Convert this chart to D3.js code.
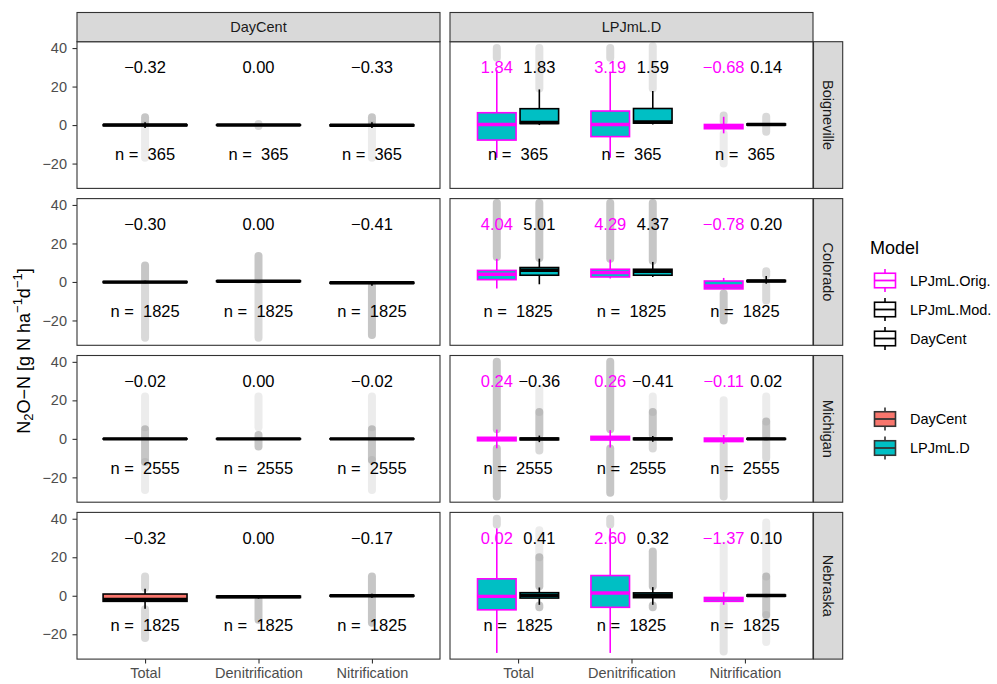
<!DOCTYPE html>
<html><head><meta charset="utf-8">
<script src="https://cdn.jsdelivr.net/npm/d3@7"></script>
<style>
body{margin:0;background:#fff}
text{font-family:"Liberation Sans",Arial,Helvetica,sans-serif}
</style>
</head><body>
<svg id="c" width="997" height="684"></svg>
<script>
// ---------- data ----------
const sites = ["Boigneville", "Colorado", "Michigan", "Nebraska"];
const components = ["Total", "Denitrification", "Nitrification"];
const panels = ["DayCent", "LPJmL.D"];
const nObs = [365, 1825, 2555, 1825];
const yTicks = [-20, 0, 20, 40];
const colourLegend = ["LPJmL.Orig.", "LPJmL.Mod.", "DayCent"];
const fillLegend = ["DayCent", "LPJmL.D"];

// mean-difference labels [site][component]
const meanDayCent = [[-0.32, 0.00, -0.33], [-0.30, 0.00, -0.41], [-0.02, 0.00, -0.02], [-0.32, 0.00, -0.17]];
const meanOrig = [[1.84, 3.19, -0.68], [4.04, 4.29, -0.78], [0.24, 0.26, -0.11], [0.02, 2.60, -1.37]];
const meanMod = [[1.83, 1.59, 0.14], [5.01, 4.37, 0.20], [-0.36, -0.41, 0.02], [0.41, 0.32, 0.10]];

// box stats [lower whisker, q1, median, q3, upper whisker]
const boxDayCent = [
  [[-1.5, -0.3, 0, 0.2, 1.5], [-0.1, -0.1, 0, 0.1, 0.1], [-1.5, -0.4, -0.1, 0.1, 1.5]],
  [[-0.6, -0.3, -0.1, 0.2, 0.6], [0, 0.2, 0.4, 0.6, 0.8], [-2, -0.7, -0.4, -0.2, 0]],
  [[-0.3, -0.1, 0, 0.1, 0.3], [-0.3, -0.1, 0, 0.1, 0.3], [-0.3, -0.1, 0, 0.1, 0.3]],
  [[-6.8, -2.9, -1.9, 0.9, 3.6], [-1.5, -0.9, -0.5, -0.2, 0.3], [-1, -0.2, 0, 0.2, 1]]
];
const boxOrig = [
  [[-17, -7.8, 0.3, 6.4, 28.5], [-17, -6, 0.3, 7.3, 27.7], [-4.3, -1.9, -0.8, 0.3, 4.3]],
  [[-3.4, 1.2, 4.0, 6.0, 12], [1.8, 2.6, 4.9, 6.6, 11.6], [-3.8, -3.6, -2.1, 0.5, 2.1]],
  [[-4.9, -1, 0, 0.8, 4.8], [-4.5, -0.6, 0.5, 1.3, 4.5], [-2.6, -1.4, -0.5, 0.4, 2]],
  [[-29.7, -7.3, -0.3, 8.8, 35], [-29.7, -6, 1.4, 10.5, 35], [-4.7, -2.9, -1.6, -0.9, 1.9]]
];
const boxMod = [
  [[0, 0.8, 1.3, 8.5, 18.5], [0.3, 1, 1.6, 8.6, 17.7], [-0.3, 0, 0.3, 0.6, 1]],
  [[-1.2, 3.5, 6.1, 7.5, 12.1], [2.6, 3.5, 5.5, 6.6, 10.4], [-0.9, 0.2, 0.5, 0.8, 3.1]],
  [[-1.7, -0.5, 0, 0.4, 1.7], [-1.5, -0.4, 0, 0.4, 1.5], [-0.5, -0.2, 0, 0.2, 0.5]],
  [[-4.7, -1.2, 0.2, 1.6, 4.3], [-4.7, -1, 0.3, 1.5, 4.5], [-0.5, -0.2, 0.1, 0.4, 0.8]]
];

// outlier runs [low, high, relative point density]
const outDayCent = [
  [[[1, 4, 3], [-17, 0, 1]], [[-0.5, 0.5, 2]], [[1, 4, 3], [-17, 0, 1]]],
  [[[1, 8.5, 3], [-29, -1, 2]], [[1, 13.5, 3], [-29, -1, 2]], [[-27.5, -2, 3]]],
  [[[6, 22, 1], [-12, 5, 3], [-26.5, -12, 1]], [[6, 22, 1], [-4, 2, 3]], [[6, 22, 1], [-11, 5, 3], [-26.5, -11, 1]]],
  [[[4, 10, 2], [-22, -7, 2]], [[-12.5, -2, 3]], [[1, 10, 3], [-14, -1, 3]]]
];
const outOrig = [
  [[[35, 40, 2]], [[35, 40, 2]], [[2, 5, 2], [-20, -4.5, 1]]],
  [[[13, 41, 3]], [[12, 41, 3]], [[-20, -6, 3]]],
  [[[5, 40, 3], [-30, -5, 3]], [[5, 40, 3], [-28, -5, 3]], [[3, 20, 1], [-30, -3, 2]]],
  [[[37, 40, 2]], [[37, 40, 2]], [[3, 26, 1], [-29, -5, 1.5]]]
];
const outMod = [
  [[[19, 40, 1.5]], [[19, 41, 1.5]], [[-3.5, 4.3, 2]]],
  [[[12.5, 41, 3]], [[11, 41, 3]], [[3.5, 5.5, 2], [-9.6, -1.5, 2]]],
  [[[2, 14, 3], [14, 26, 1], [-6, -2, 2]], [[2, 14, 3], [14, 22, 1], [-5, -2, 2]], [[1, 9, 3], [9, 22, 1], [-10, -1, 2]]],
  [[[5, 20, 3], [20, 34, 1], [-6, -5, 3]], [[5, 23, 3], [-6, -5, 3]], [[1, 10, 3], [10, 38, 1], [-10, -1, 3], [-24, -10, 1]]]
];

// ---------- layout ----------
const svg = d3.select("#c");
const MAG = "#FF00FF", TEAL = "#00BFC4", SALMON = "#F8766D", G20 = "#333333";
const rowTop = 41.7, rowStep = 156.9, rowH = 146.7;
const panelX = [[77, 440], [450, 813]];
const yDomain = [-32.9, 43.3];
const densOpacity = d3.scaleLinear().domain([0, 3]).range([0, 0.45]);

const seriesByPanel = [
  [{box: boxDayCent, out: outDayCent, mean: meanDayCent, stroke: "#000", fill: SALMON, off: 0, w: 0.74, lab: "#000"}],
  [{box: boxOrig, out: outOrig, mean: meanOrig, stroke: MAG, fill: TEAL, off: -0.1875, w: 0.34, lab: MAG},
   {box: boxMod, out: outMod, mean: meanMod, stroke: "#000", fill: TEAL, off: 0.1875, w: 0.34, lab: "#000"}]
];

sites.forEach((site, r) => {
  const top = rowTop + r * rowStep;
  const y = d3.scaleLinear().domain(yDomain).range([top + rowH, top]);
  panels.forEach((pn, p) => {
    const [pl, pr] = panelX[p];
    const x = d3.scalePoint().domain(components).range([pl, pr]).padding(0.6);
    const step = x.step();
    const g = svg.append("g");
    g.append("rect").attr("x", pl).attr("y", top).attr("width", pr - pl).attr("height", rowH).attr("fill", "#fff");
    const ser = seriesByPanel[p];
    // outliers
    ser.forEach(s => {
      components.forEach((c, ci) => {
        const cx = x(c) + s.off * step;
        s.out[r][ci].forEach(o => {
          g.append("line").attr("x1", cx).attr("x2", cx)
            .attr("y1", y(o[0])).attr("y2", y(o[1]))
            .attr("stroke", "#808080").attr("stroke-opacity", densOpacity(o[2]))
            .attr("stroke-width", 8).attr("stroke-linecap", "round");
        });
      });
    });
    // boxes
    ser.forEach(s => {
      components.forEach((c, ci) => {
        const b = s.box[r][ci];
        const cx = x(c) + s.off * step;
        const hw = s.w * step / 2;
        g.append("line").attr("x1", cx).attr("x2", cx).attr("y1", y(b[4])).attr("y2", y(b[3]))
          .attr("stroke", s.stroke).attr("stroke-width", 1.6);
        g.append("line").attr("x1", cx).attr("x2", cx).attr("y1", y(b[1])).attr("y2", y(b[0]))
          .attr("stroke", s.stroke).attr("stroke-width", 1.6);
        g.append("rect").attr("x", cx - hw).attr("width", 2 * hw)
          .attr("y", y(b[3])).attr("height", Math.max(0.01, y(b[1]) - y(b[3])))
          .attr("fill", s.fill).attr("stroke", s.stroke).attr("stroke-width", 1.6);
        g.append("line").attr("x1", cx - hw).attr("x2", cx + hw).attr("y1", y(b[2])).attr("y2", y(b[2]))
          .attr("stroke", s.stroke).attr("stroke-width", 3.4);
      });
    });
    // labels
    const fmt = d3.format(".2f");
    ser.forEach(s => {
      components.forEach((c, ci) => {
        g.append("text").attr("x", x(c) + s.off * step).attr("y", y(30))
          .attr("text-anchor", "middle").attr("dominant-baseline", "central")
          .attr("font-size", 16.5).attr("fill", s.lab).text(fmt(s.mean[r][ci]));
      });
    });
    components.forEach(c => {
      g.append("text").attr("x", x(c)).attr("y", y(-15))
        .attr("text-anchor", "middle").attr("dominant-baseline", "central")
        .attr("font-size", 16.5).attr("fill", "#000").style("white-space", "pre")
        .text("n =  " + nObs[r]);
    });
    // border
    g.append("rect").attr("x", pl).attr("y", top).attr("width", pr - pl).attr("height", rowH)
      .attr("fill", "none").attr("stroke", G20).attr("stroke-width", 1.1);
    // axes
    if (p === 0) {
      const ax = svg.append("g").attr("transform", `translate(${pl},0)`)
        .call(d3.axisLeft(y).tickValues(yTicks).tickSize(4.5).tickPadding(5.5));
      ax.select(".domain").remove();
      ax.selectAll("line").attr("stroke", G20).attr("stroke-width", 1.1);
      ax.selectAll("text").attr("fill", "#4D4D4D").attr("font-size", 14.5)
        .attr("font-family", "'Liberation Sans',Arial,sans-serif");
    }
    if (r === sites.length - 1) {
      const ax = svg.append("g").attr("transform", `translate(0,${top + rowH})`)
        .call(d3.axisBottom(x).tickSize(4.5).tickPadding(4.5));
      ax.select(".domain").remove();
      ax.selectAll("line").attr("stroke", G20).attr("stroke-width", 1.1);
      ax.selectAll("text").attr("fill", "#4D4D4D").attr("font-size", 14.5)
        .attr("font-family", "'Liberation Sans',Arial,sans-serif");
    }
    // top strips
    if (r === 0) {
      svg.append("rect").attr("x", pl).attr("y", 12.5).attr("width", pr - pl).attr("height", 29.2)
        .attr("fill", "#D9D9D9").attr("stroke", G20).attr("stroke-width", 1.1);
      svg.append("text").attr("x", (pl + pr) / 2).attr("y", 27.1)
        .attr("text-anchor", "middle").attr("dominant-baseline", "central")
        .attr("font-size", 14.5).attr("fill", "#1A1A1A").text(pn);
    }
  });
  // right strip
  svg.append("rect").attr("x", 813.5).attr("y", top).attr("width", 29.2).attr("height", rowH)
    .attr("fill", "#D9D9D9").attr("stroke", G20).attr("stroke-width", 1.1);
  svg.append("text").attr("transform", `translate(828.1,${top + rowH / 2}) rotate(90)`)
    .attr("text-anchor", "middle").attr("dominant-baseline", "central")
    .attr("font-size", 14.5).attr("fill", "#1A1A1A").text(site);
});

// y-axis title
const yt = svg.append("text").attr("transform", "translate(24,351) rotate(-90)")
  .attr("text-anchor", "middle").attr("dominant-baseline", "central")
  .attr("font-size", 18).attr("fill", "#000");
yt.append("tspan").text("N");
yt.append("tspan").attr("dy", 4).attr("font-size", 13).text("2");
yt.append("tspan").attr("dy", -4).text("O\u2212N [g N ha");
yt.append("tspan").attr("dy", -7).attr("font-size", 13).text("\u22121");
yt.append("tspan").attr("dy", 7).text("d");
yt.append("tspan").attr("dy", -7).attr("font-size", 13).text("\u22121");
yt.append("tspan").attr("dy", 7).text("]");

// legends
svg.append("text").attr("x", 870).attr("y", 248).attr("dominant-baseline", "central")
  .attr("font-size", 18).attr("fill", "#000").text("Model");
function key(cy, stroke, fill) {
  const cx = 885, h = 29, hw = 10.5;
  svg.append("line").attr("x1", cx).attr("x2", cx).attr("y1", cy - 0.4 * h).attr("y2", cy + 0.4 * h)
    .attr("stroke", stroke).attr("stroke-width", 1.6);
  svg.append("rect").attr("x", cx - hw).attr("y", cy - 0.25 * h).attr("width", 2 * hw).attr("height", 0.5 * h)
    .attr("fill", fill).attr("stroke", stroke).attr("stroke-width", 1.6);
  svg.append("line").attr("x1", cx - hw).attr("x2", cx + hw).attr("y1", cy).attr("y2", cy)
    .attr("stroke", stroke).attr("stroke-width", 1.8);
}
const colourStroke = [MAG, "#000", "#000"];
colourLegend.forEach((name, i) => {
  const cy = 280.5 + i * 29;
  key(cy, colourStroke[i], "#fff");
  svg.append("text").attr("x", 910).attr("y", cy).attr("dominant-baseline", "central")
    .attr("font-size", 14.5).attr("fill", "#000").text(name);
});
const fillColours = [SALMON, TEAL];
fillLegend.forEach((name, i) => {
  const cy = 419 + i * 29;
  key(cy, G20, fillColours[i]);
  svg.append("text").attr("x", 910).attr("y", cy).attr("dominant-baseline", "central")
    .attr("font-size", 14.5).attr("fill", "#000").text(name);
});
</script>
</body></html>
